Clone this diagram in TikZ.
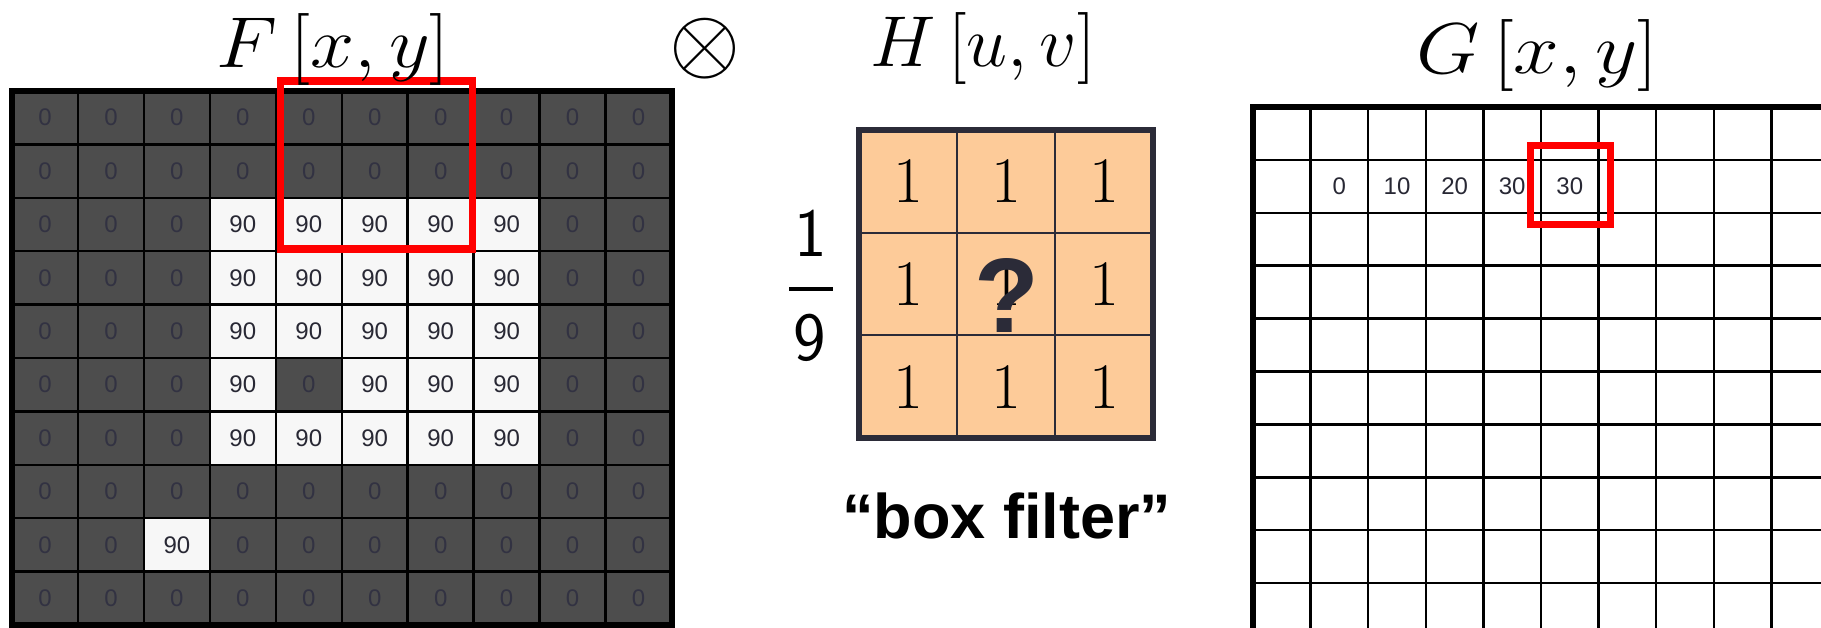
\RequirePackage{fix-cm}
\documentclass[tikz,border=0pt]{standalone}
\usepackage{graphicx}
\usepackage{fontspec}
\newfontfamily\arial{Liberation Sans}
\definecolor{darkcell}{RGB}{77,77,77}
\definecolor{zerotxt}{RGB}{50,50,66}
\definecolor{lightcell}{RGB}{247,247,247}
\definecolor{numtxt}{RGB}{40,40,52}
\definecolor{peach}{RGB}{253,203,153}
\definecolor{hline}{RGB}{43,43,56}
\begin{document}
\begin{tikzpicture}[x=0.5pt,y=-0.5pt,
  num/.style={font=\arial\fontsize{12}{14}\selectfont, inner sep=0pt},
  gridline/.style={line width=1.25pt, black},
  border/.style={line width=3pt, black},
  redbox/.style={line width=3.75pt, red},
  title/.style={font=\fontsize{36}{40}\selectfont, inner sep=0pt, anchor=base},
  hone/.style={font=\rmfamily\fontsize{32.5}{36}\selectfont, inner sep=0pt},
  frac/.style={font=\sffamily\fontsize{34.5}{40}\selectfont, inner sep=0pt}]
\useasboundingbox (0,0) rectangle (1821,627);
\clip (0,0) rectangle (1821,627);

% ---------- F[x,y] ----------
\fill[darkcell] (12,91) rectangle (671.5,625);
\foreach \row [count=\r from 0] in {
  {0,0,0,0,0,0,0,0,0,0},
  {0,0,0,0,0,0,0,0,0,0},
  {0,0,0,90,90,90,90,90,0,0},
  {0,0,0,90,90,90,90,90,0,0},
  {0,0,0,90,90,90,90,90,0,0},
  {0,0,0,90,0,90,90,90,0,0},
  {0,0,0,90,90,90,90,90,0,0},
  {0,0,0,0,0,0,0,0,0,0},
  {0,0,90,0,0,0,0,0,0,0},
  {0,0,0,0,0,0,0,0,0,0}} {
  \foreach \v [count=\c from 0] in \row {
    \ifnum\v=90
      \fill[lightcell] ({12+65.95*\c},{91+53.4*\r}) rectangle ++(65.95,53.4);
    \fi
  }
}
\foreach \k in {1,...,9} {
  \draw[gridline] ({12+65.95*\k},91) -- ++(0,534);
  \draw[gridline] (12,{91+53.4*\k}) -- ++(659.5,0);
}
\draw[border] (12,91) rectangle (671.5,625);
\foreach \row [count=\r from 0] in {
  {0,0,0,0,0,0,0,0,0,0},
  {0,0,0,0,0,0,0,0,0,0},
  {0,0,0,90,90,90,90,90,0,0},
  {0,0,0,90,90,90,90,90,0,0},
  {0,0,0,90,90,90,90,90,0,0},
  {0,0,0,90,0,90,90,90,0,0},
  {0,0,0,90,90,90,90,90,0,0},
  {0,0,0,0,0,0,0,0,0,0},
  {0,0,90,0,0,0,0,0,0,0},
  {0,0,0,0,0,0,0,0,0,0}} {
  \foreach \v [count=\c from 0] in \row {
    \ifnum\v=90
      \node[num, text=numtxt] (f-\r-\c) at ({12+65.95*(\c+0.5)},{91+53.4*(\r+0.5)}) {\v};
    \else
      \node[num, text=zerotxt] (f-\r-\c) at ({12+65.95*(\c+0.5)},{91+53.4*(\r+0.5)}) {\v};
    \fi
  }
}
\draw[redbox] (280.3,81) rectangle (472.3,249);
\node[title] (ftitle) at (333,67) {\scalebox{1.1}[1]{$F\,[x,y]$}};

% ---------- otimes ----------
\node[inner sep=0pt, font=\fontsize{45.7}{50}\selectfont] (otimes) at (705.5,48.5) {$\otimes$};

% ---------- H[u,v] ----------
\node[title] (htitle) at (983,66) {\scalebox{1.02}[1]{$H\,[u,v]$}};
\fill[peach] (859,130) rectangle (1153,438);
\foreach \k in {1,2} {
  \draw[line width=1pt, hline] ({859+98*\k},130) -- ++(0,308);
  \draw[line width=1pt, hline] (859,{130+102.67*\k}) -- ++(294,0);
}
\draw[line width=2.75pt, hline] (859,130) rectangle (1153,438);
\foreach \r in {0,1,2} {
  \foreach \c in {0,1,2} {
    \node[hone] (h-\r-\c) at ({859+98*(\c+0.5)},{130+102.67*(\r+0.5)}) {1};
  }
}
\node[font=\arial\bfseries\fontsize{53}{60}\selectfont, text=hline, inner sep=0pt, anchor=base] (qmark) at (1007,332) {?};
\node[frac] (fone) at (810.5,233.5) {1};
\node[frac] (fnine) at (810,338) {9};
\coordinate (barl) at (789,289);
\coordinate (barr) at (833,289);
\draw[line width=1.75pt] (barl) -- (barr);
\node[font=\arial\bfseries\fontsize{31.5}{36}\selectfont, inner sep=0pt, anchor=base] (boxfilter) at (1007,538) {“box filter”};

% ---------- G[x,y] ----------
\node[title] (gtitle) at (1537,73) {\scalebox{1.14}[1]{$G\,[x,y]$}};
\foreach \k in {1,...,9} {
  \draw[gridline] ({1253+57.6*\k},107) -- ({1253+57.6*\k},630);
  \draw[gridline] (1253,{107+52.9*\k}) -- (1830,{107+52.9*\k});
}
\draw[border] (1253,630) -- (1253,107) -- (1830,107);
\foreach \v [count=\c from 1] in {0,10,20,30,30} {
  \node[num, text=numtxt] (g-\c) at ({1253+57.6*(\c+0.5)},186.35) {\v};
}
\draw[line width=3.5pt, red] (1530.5,145.5) rectangle (1610.5,224.5);
\end{tikzpicture}
\end{document}
